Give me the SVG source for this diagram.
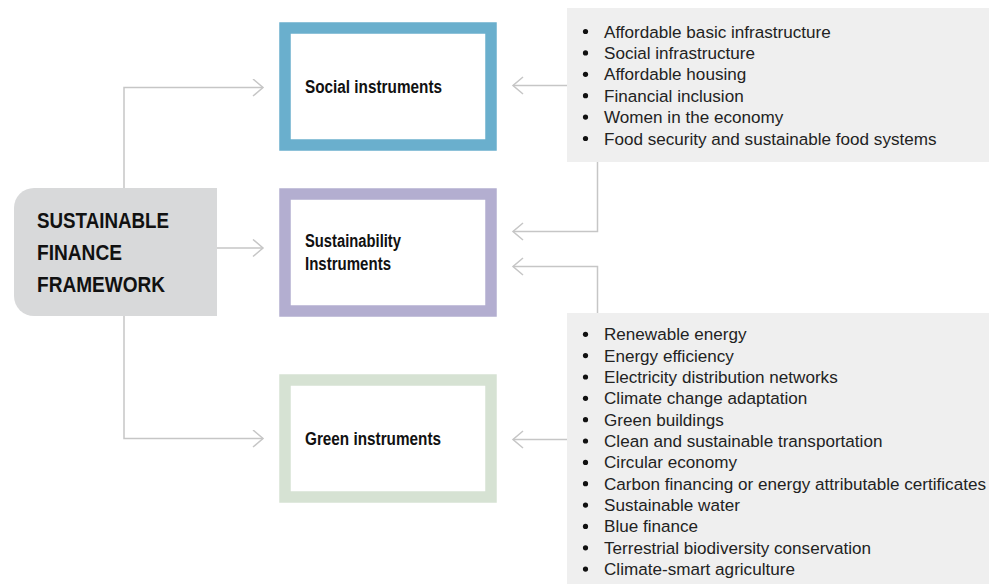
<svg xmlns="http://www.w3.org/2000/svg" width="989" height="584" viewBox="0 0 989 584">
<defs>
<marker id="chev" markerUnits="userSpaceOnUse" markerWidth="14" markerHeight="20" refX="11" refY="9" orient="auto" viewBox="0 0 14 20">
<path d="M1,0.5 L11,9 L1,17.5" fill="none" stroke="#c6c6c6" stroke-width="1.5"/>
</marker>
</defs>
<style>
.conn{fill:none;stroke:#c6c6c6;stroke-width:1.5}
.lbl{font-family:"Liberation Sans",Arial,sans-serif;font-weight:bold;font-size:18px;fill:#111}
.main{font-family:"Liberation Sans",Arial,sans-serif;font-weight:bold;font-size:22.5px;fill:#111}
.item{font-family:"Liberation Sans",Arial,sans-serif;font-size:17.1px;fill:#222}
.list{fill:#efefef}
.bul{fill:#111}
</style>
<rect width="989" height="584" fill="#ffffff"/>
<g id="connectors">
<path class="conn" d="M124,188 V87.5 H263" marker-end="url(#chev)"/>
<path class="conn" d="M217,248 H263" marker-end="url(#chev)"/>
<path class="conn" d="M124,316 V438.5 H263" marker-end="url(#chev)"/>
<path class="conn" d="M567,85.5 H513" marker-end="url(#chev)"/>
<path class="conn" d="M597.5,162 V231.5 H513" marker-end="url(#chev)"/>
<path class="conn" d="M597.5,313 V266.5 H513" marker-end="url(#chev)"/>
<path class="conn" d="M567,439.5 H513" marker-end="url(#chev)"/>
</g>
<g id="framework">
<path d="M217,188 H34 A20,20 0 0 0 14,208 V296 A20,20 0 0 0 34,316 H217 Z" fill="#d8d9da"/>
<text class="main" x="37" y="228" textLength="132" lengthAdjust="spacingAndGlyphs">SUSTAINABLE</text>
<text class="main" x="37" y="260" textLength="85" lengthAdjust="spacingAndGlyphs">FINANCE</text>
<text class="main" x="37" y="292" textLength="128" lengthAdjust="spacingAndGlyphs">FRAMEWORK</text>
</g>
<g id="social">
<rect x="285" y="28" width="206" height="117" fill="#ffffff" stroke="#6aafcd" stroke-width="11.5"/>
<text class="lbl" x="305" y="93" textLength="137" lengthAdjust="spacingAndGlyphs">Social instruments</text>
</g>
<g id="sustainability">
<rect x="285" y="194" width="206" height="117" fill="#ffffff" stroke="#b3aed0" stroke-width="11.5"/>
<text class="lbl" x="305" y="247" textLength="96" lengthAdjust="spacingAndGlyphs">Sustainability</text>
<text class="lbl" x="305" y="270" textLength="86" lengthAdjust="spacingAndGlyphs">Instruments</text>
</g>
<g id="green">
<rect x="285" y="380" width="206" height="117" fill="#ffffff" stroke="#d6e2d3" stroke-width="11.5"/>
<text class="lbl" x="305" y="445" textLength="136" lengthAdjust="spacingAndGlyphs">Green instruments</text>
</g>
<g id="social-list">
<rect class="list" x="567" y="8" width="422" height="154"/>
<g class="bul">
<circle cx="585.5" cy="31.5" r="2.6"/>
<circle cx="585.5" cy="52.9" r="2.6"/>
<circle cx="585.5" cy="74.3" r="2.6"/>
<circle cx="585.5" cy="95.7" r="2.6"/>
<circle cx="585.5" cy="117.1" r="2.6"/>
<circle cx="585.5" cy="138.5" r="2.6"/>
</g>
<text class="item" x="604" y="37.5">Affordable basic infrastructure</text>
<text class="item" x="604" y="58.9">Social infrastructure</text>
<text class="item" x="604" y="80.3">Affordable housing</text>
<text class="item" x="604" y="101.7">Financial inclusion</text>
<text class="item" x="604" y="123.1">Women in the economy</text>
<text class="item" x="604" y="144.5">Food security and sustainable food systems</text>
</g>
<g id="green-list">
<rect class="list" x="567" y="313" width="422" height="271"/>
<g class="bul">
<circle cx="585.5" cy="334.3" r="2.6"/>
<circle cx="585.5" cy="355.6" r="2.6"/>
<circle cx="585.5" cy="377" r="2.6"/>
<circle cx="585.5" cy="398.3" r="2.6"/>
<circle cx="585.5" cy="419.7" r="2.6"/>
<circle cx="585.5" cy="441" r="2.6"/>
<circle cx="585.5" cy="462.4" r="2.6"/>
<circle cx="585.5" cy="483.7" r="2.6"/>
<circle cx="585.5" cy="505.1" r="2.6"/>
<circle cx="585.5" cy="526.4" r="2.6"/>
<circle cx="585.5" cy="547.8" r="2.6"/>
<circle cx="585.5" cy="569.1" r="2.6"/>
</g>
<text class="item" x="604" y="340.3">Renewable energy</text>
<text class="item" x="604" y="361.6">Energy efficiency</text>
<text class="item" x="604" y="383">Electricity distribution networks</text>
<text class="item" x="604" y="404.3">Climate change adaptation</text>
<text class="item" x="604" y="425.7">Green buildings</text>
<text class="item" x="604" y="447">Clean and sustainable transportation</text>
<text class="item" x="604" y="468.4">Circular economy</text>
<text class="item" x="604" y="489.7">Carbon financing or energy attributable certificates</text>
<text class="item" x="604" y="511.1">Sustainable water</text>
<text class="item" x="604" y="532.4">Blue finance</text>
<text class="item" x="604" y="553.8">Terrestrial biodiversity conservation</text>
<text class="item" x="604" y="575.1">Climate-smart agriculture</text>
</g>
</svg>
